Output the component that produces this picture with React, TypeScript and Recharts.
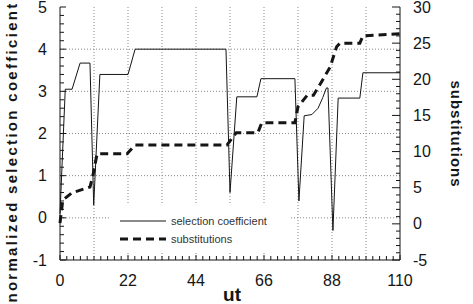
import React from 'react';
import { LineChart, Line, XAxis, YAxis, ReferenceLine, Legend, Label } from 'recharts';

// selection coefficient (left axis)
const selT = [0, 1.7, 3.9, 6.5, 9.7, 10.9, 12.9, 22, 24.3, 53.7, 55, 57.2, 63.7, 65, 76, 77.3, 79, 81.5, 83.5, 85, 86.2, 86.7, 88.3, 90, 97, 98, 110];
const selV = [0.1, 3.05, 3.05, 3.67, 3.67, 0.3, 3.4, 3.4, 4.0, 4.0, 0.6, 2.87, 2.87, 3.3, 3.3, 0.4, 2.42, 2.45, 2.6, 2.85, 3.08, 3.08, -0.3, 2.84, 2.84, 3.44, 3.44];

// substitutions (right axis)
const subT = [0, 0.9, 3.9, 9.7, 10.7, 12, 21.7, 24.3, 54, 57, 64, 65.3, 76, 77, 80, 82, 84, 87.4, 89.5, 90.6, 97, 98, 110];
const subV = [0.1, 3.3, 4.3, 5.1, 6.8, 9.7, 9.7, 10.9, 10.9, 12.6, 12.6, 14, 14, 16.2, 17.8, 17.8, 19.2, 21.7, 24.5, 25, 25, 26, 26.3];

const xLabels = [0, 22, 44, 66, 88, 110];
const leftLabels = [-1, 0, 1, 2, 3, 4, 5];
const rightLabels = [-5, 0, 5, 10, 15, 20, 25, 30];
const xGrid = [11, 22, 33, 44, 55, 66, 77, 88, 99];
const yGrid = [0, 1, 2, 3, 4];

const xTicks = Array.from({ length: 51 }, (_, i) => +(i * 2.2).toFixed(1));
const leftTicks = Array.from({ length: 31 }, (_, i) => +(-1 + i * 0.2).toFixed(1));
const rightTicks = Array.from({ length: 36 }, (_, i) => i - 5);

const selData = selT.map((t, i) => ({ t, sel: selV[i] }));
const subData = subT.map((t, i) => ({ t, sub: subV[i] }));

const FONT = '"Liberation Sans", Arial, Helvetica, sans-serif';
const INK = '#151515';

const isIn = (list: number[], v: number) => list.some((m) => Math.abs(m - v) < 1e-6);

function makeTick(side: 'left' | 'right' | 'bottom' | 'top', labels: number[], major: number, minor: number) {
  return (props: any) => {
    const { x, y, payload } = props;
    const v = payload.value;
    const big = isIn(labels, v);
    const len = big ? major : minor;
    let line;
    let text = null;
    if (side === 'left') {
      line = <line x1={x} y1={y} x2={x + len} y2={y} stroke={INK} strokeWidth={1} />;
      if (big) text = <text x={x - 13} y={y} textAnchor="end" dominantBaseline="central" fontSize={16} fill={INK} fontFamily={FONT}>{v}</text>;
    } else if (side === 'right') {
      line = <line x1={x - len} y1={y} x2={x} y2={y} stroke={INK} strokeWidth={1} />;
      if (big) text = <text x={x + 13} y={y} textAnchor="start" dominantBaseline="central" fontSize={16} fill={INK} fontFamily={FONT}>{v}</text>;
    } else if (side === 'bottom') {
      line = <line x1={x} y1={y - len} x2={x} y2={y} stroke={INK} strokeWidth={1} />;
      if (big) text = <text x={x} y={y + 20} textAnchor="middle" dominantBaseline="central" fontSize={16} fill={INK} fontFamily={FONT}>{v}</text>;
    } else {
      line = <line x1={x} y1={y} x2={x} y2={y + len} stroke={INK} strokeWidth={1} />;
    }
    return (
      <g>
        {line}
        {text}
      </g>
    );
  };
}

function LegendBox() {
  const row = { display: 'flex', alignItems: 'center', height: 18 } as const;
  return (
    <div style={{ background: '#fff', padding: '7px 0 4px 10px', fontFamily: FONT, fontSize: 11, color: '#333' }}>
      <div style={row}>
        <svg width={46} height={8}>
          <line x1={0} y1={4} x2={46} y2={4} stroke={INK} strokeWidth={1} />
        </svg>
        <span style={{ marginLeft: 5 }}>selection coefficient</span>
      </div>
      <div style={row}>
        <svg width={46} height={8}>
          <line x1={0} y1={4} x2={46} y2={4} stroke={INK} strokeWidth={3} strokeDasharray="8 5" />
        </svg>
        <span style={{ marginLeft: 5 }}>substitutions</span>
      </div>
    </div>
  );
}

export default function App() {
  return (
    <div style={{ position: 'absolute', left: 0, top: 0, width: 473, height: 304, background: '#fff' }}>
      <LineChart width={473} height={304} margin={{ top: 7, right: 0, bottom: 0, left: 0 }}>
        <XAxis
          xAxisId="b"
          dataKey="t"
          type="number"
          domain={[0, 110]}
          ticks={xTicks}
          interval={0}
          height={44}
          tickSize={0}
          tickMargin={0}
          tickLine={false}
          axisLine={{ stroke: INK }}
          tick={makeTick('bottom', xLabels, 5, 4)}
        >
          <Label
            content={(p: any) => (
              <text x={p.viewBox.x + p.viewBox.width / 2 + 2} y={301} textAnchor="middle" fontSize={19} fontWeight="bold" fill={INK} fontFamily={FONT}>
                ut
              </text>
            )}
          />
        </XAxis>
        <XAxis
          xAxisId="t"
          orientation="top"
          type="number"
          domain={[0, 110]}
          ticks={xTicks}
          interval={0}
          height={0}
          tickSize={0}
          tickMargin={0}
          tickLine={false}
          axisLine={{ stroke: INK }}
          tick={makeTick('top', xLabels, 5, 4)}
        />
        <YAxis
          yAxisId="left"
          type="number"
          domain={[-1, 5]}
          ticks={leftTicks}
          interval={0}
          width={60}
          tickSize={0}
          tickMargin={0}
          tickLine={false}
          axisLine={{ stroke: INK }}
          tick={makeTick('left', leftLabels, 6, 4)}
        >
          <Label
            content={() => (
              <text x={11} y={152} transform="rotate(-90 11 152)" textAnchor="middle" dominantBaseline="central" fontSize={15} fontWeight="bold" letterSpacing={2.3} fill={INK} fontFamily={FONT}>
                normalized selection coefficient
              </text>
            )}
          />
        </YAxis>
        <YAxis
          yAxisId="right"
          orientation="right"
          type="number"
          domain={[-5, 30]}
          ticks={rightTicks}
          interval={0}
          width={73}
          tickSize={0}
          tickMargin={0}
          tickLine={false}
          axisLine={{ stroke: INK }}
          tick={makeTick('right', rightLabels, 8, 4)}
        >
          <Label
            content={() => (
              <text x={456} y={134} transform="rotate(90 456 134)" textAnchor="middle" dominantBaseline="central" fontSize={15} fontWeight="bold" letterSpacing={1} fill={INK} fontFamily={FONT}>
                substitutions
              </text>
            )}
          />
        </YAxis>
        {xGrid.map((g) => (
          <ReferenceLine key={'x' + g} x={g} xAxisId="b" yAxisId="left" stroke="#8a8a8a" strokeDasharray="1 2" />
        ))}
        {yGrid.map((g) => (
          <ReferenceLine key={'y' + g} y={g} xAxisId="b" yAxisId="left" stroke="#8a8a8a" strokeDasharray="1 2" />
        ))}
        <Line
          data={selData}
          xAxisId="b"
          yAxisId="left"
          dataKey="sel"
          type="linear"
          stroke={INK}
          strokeWidth={1}
          dot={false}
          isAnimationActive={false}
        />
        <Line
          data={subData}
          xAxisId="b"
          yAxisId="right"
          dataKey="sub"
          type="linear"
          stroke={INK}
          strokeWidth={3}
          strokeDasharray="8 5"
          dot={false}
          isAnimationActive={false}
        />
        <Legend
          layout="vertical"
          align="center"
          verticalAlign="middle"
          content={() => <LegendBox />}
          wrapperStyle={{ position: 'absolute', left: 110, top: 205, width: 180, height: 48 }}
        />
      </LineChart>
    </div>
  );
}
